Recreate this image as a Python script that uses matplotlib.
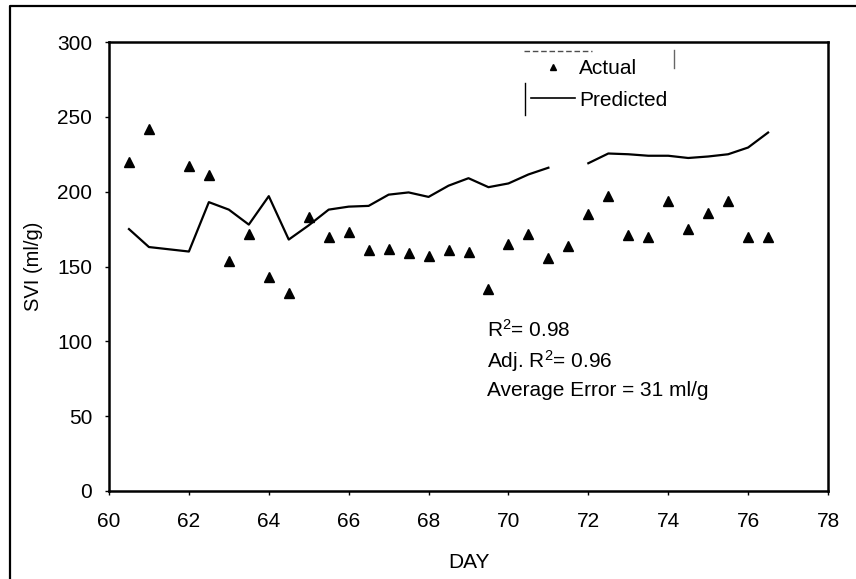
import numpy as np
import matplotlib
matplotlib.use("Agg")
import matplotlib.pyplot as plt
from matplotlib.lines import Line2D

plt.rcParams['font.family'] = ['Liberation Sans', 'DejaVu Sans']
plt.rcParams['mathtext.fontset'] = 'custom'
plt.rcParams['mathtext.rm'] = 'Liberation Sans'
plt.rcParams['mathtext.it'] = 'Liberation Sans:italic'

# ---- data ----
actual_day = [60.5, 61, 62, 62.5, 63, 63.5, 64, 64.5, 65, 65.5, 66, 66.5, 67, 67.5,
              68, 68.5, 69, 69.5, 70, 70.5, 71, 71.5, 72, 72.5, 73, 73.5, 74, 74.5,
              75, 75.5, 76, 76.5]
actual_svi = [220, 242, 217, 211, 154, 172, 143, 132, 183, 170, 173, 161, 162, 159,
              157, 161, 160, 135, 165, 172, 156, 164, 185, 197, 171, 170, 194, 175,
              186, 194, 170, 170]

pred_day = [60.5, 61, 62, 62.5, 63, 63.5, 64, 64.5, 65, 65.5, 66, 66.5, 67, 67.5,
            68, 68.5, 69, 69.5, 70, 70.5, 71, 71.5, 72, 72.5, 73, 73.5, 74, 74.5,
            75, 75.5, 76, 76.5]
pred_svi = [175, 163, 160, 193, 188, 178, 197, 168, 177.5, 188, 190, 190.5, 198, 199.5,
            196.5, 204, 209, 203, 205.5, 211.5, 216, np.nan, 219, 225.5, 225, 224, 224,
            222.5, 223.5, 225, 229.5, 239.5]

x_ticks = [60, 62, 64, 66, 68, 70, 72, 74, 76, 78]
y_ticks = [0, 50, 100, 150, 200, 250, 300]
stats_lines = ["R$^2$= 0.98", "Adj. R$^2$= 0.96", "Average Error = 31 ml/g"]

W, H = 856, 579
FS = 15
fig = plt.figure(figsize=(W / 100, H / 100), dpi=100)
ax = fig.add_axes([109 / W, 1 - 491 / H, (828 - 109) / W, (491 - 42) / H])

ax.plot(pred_day, pred_svi, color='black', lw=1.6, label='Predicted')
ax.plot(actual_day, actual_svi, linestyle='none', marker='^', color='black',
        markersize=6.5, label='Actual')

ax.set_xlim(60, 78)
ax.set_ylim(0, 300)
ax.set_xticks(x_ticks)
ax.set_yticks(y_ticks)
ax.tick_params(direction='out', length=3, width=1, labelsize=FS, colors='black')
ax.tick_params(axis='x', pad=12)
ax.tick_params(axis='y', pad=9)
for s in ax.spines.values():
    s.set_linewidth(1.8)
    s.set_color('black')

ax.set_xlabel('DAY', fontsize=FS, labelpad=16)
ax.set_ylabel('SVI (ml/g)', fontsize=14.5, labelpad=10)

# legend (no frame)
h_line = Line2D([], [], color='black', lw=1.2)
h_mark = Line2D([], [], color='black', marker='^', linestyle='none', markersize=5)
fig.legend([h_mark, h_line], ['Actual', 'Predicted'], loc='upper left',
           bbox_to_anchor=(531 / W, 1 - 59 / H), frameon=False, fontsize=FS,
           borderpad=0, borderaxespad=0, handlelength=2.1, handletextpad=0.2,
           labelspacing=0.6)

# remnants of legend box (scan artifacts)
fig.add_artist(Line2D([524 / W, 592 / W], [1 - 51 / H, 1 - 51 / H], color='0.3',
                      lw=1, linestyle=(0, (4, 2))))
fig.add_artist(Line2D([525 / W, 525 / W], [1 - 83 / H, 1 - 115 / H], color='black', lw=1))
fig.add_artist(Line2D([674 / W, 674 / W], [1 - 50 / H, 1 - 68 / H], color='0.4', lw=1))

# stats annotation
for txt, yp in zip(stats_lines, [330, 361, 390]):
    fig.text(487 / W, 1 - yp / H, txt, fontsize=FS, va='center', ha='left')

# outer frame (left and top edges)
fig.add_artist(Line2D([10 / W, 10 / W, 1.0], [0.0, 1 - 6 / H, 1 - 6 / H],
                      color='black', lw=1.6))

fig.savefig('out.png', dpi=100)
